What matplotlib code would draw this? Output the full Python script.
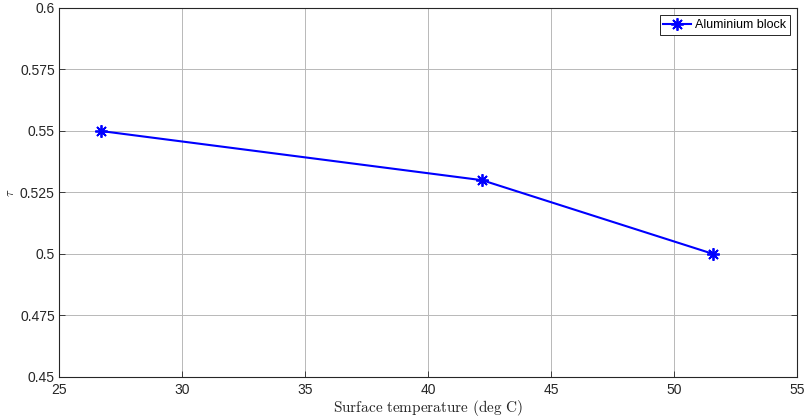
import matplotlib
matplotlib.use("Agg")
import matplotlib.pyplot as plt

surface_temp = [26.7, 42.2, 51.6]
tau = [0.55, 0.53, 0.50]
x_ticks = [25, 30, 35, 40, 45, 50, 55]
y_ticks = [0.45, 0.475, 0.5, 0.525, 0.55, 0.575, 0.6]
y_tick_labels = ["0.45", "0.475", "0.5", "0.525", "0.55", "0.575", "0.6"]

plt.rcParams["font.family"] = ["Liberation Sans", "DejaVu Sans"]
plt.rcParams["mathtext.fontset"] = "cm"

fig = plt.figure(figsize=(8.06, 4.19), dpi=100)
ax = fig.add_axes([59 / 806, 1 - 377 / 419, 738 / 806, 369 / 419])

ax.plot(surface_temp, tau, color="#0000ff", lw=1.5, marker=(8, 2, 0),
        markersize=9, markeredgewidth=1.3, markeredgecolor="#0000ff",
        label="Aluminium block")

ax.set_xlim(25, 55)
ax.set_ylim(0.45, 0.6)
ax.set_xticks(x_ticks)
ax.set_yticks(y_ticks)
ax.set_yticklabels(y_tick_labels)
ax.tick_params(direction="in", length=4, width=0.6, labelsize=10,
               colors="#262626", top=True, right=True, pad=3)
ax.tick_params(axis="x", top=False, pad=4)
for s in ax.spines.values():
    s.set_color("#262626")
    s.set_linewidth(0.8)

ax.grid(True, color="#b8b8b8", lw=0.7)
ax.set_axisbelow(True)

ax.set_xlabel(r"$\mathrm{Surface\ temperature\ (deg\ C)}$",
              fontsize=11, color="#262626", labelpad=1)
ax.set_ylabel(r"$\tau$", fontsize=9, color="#262626", labelpad=2)

leg = ax.legend(loc="upper right", fontsize=9, fancybox=False,
                edgecolor="#262626", framealpha=1, borderaxespad=0.6,
                handlelength=2.2, handletextpad=0.3, borderpad=0.3)
leg.get_frame().set_linewidth(0.7)

fig.savefig("out.png", dpi=100)
